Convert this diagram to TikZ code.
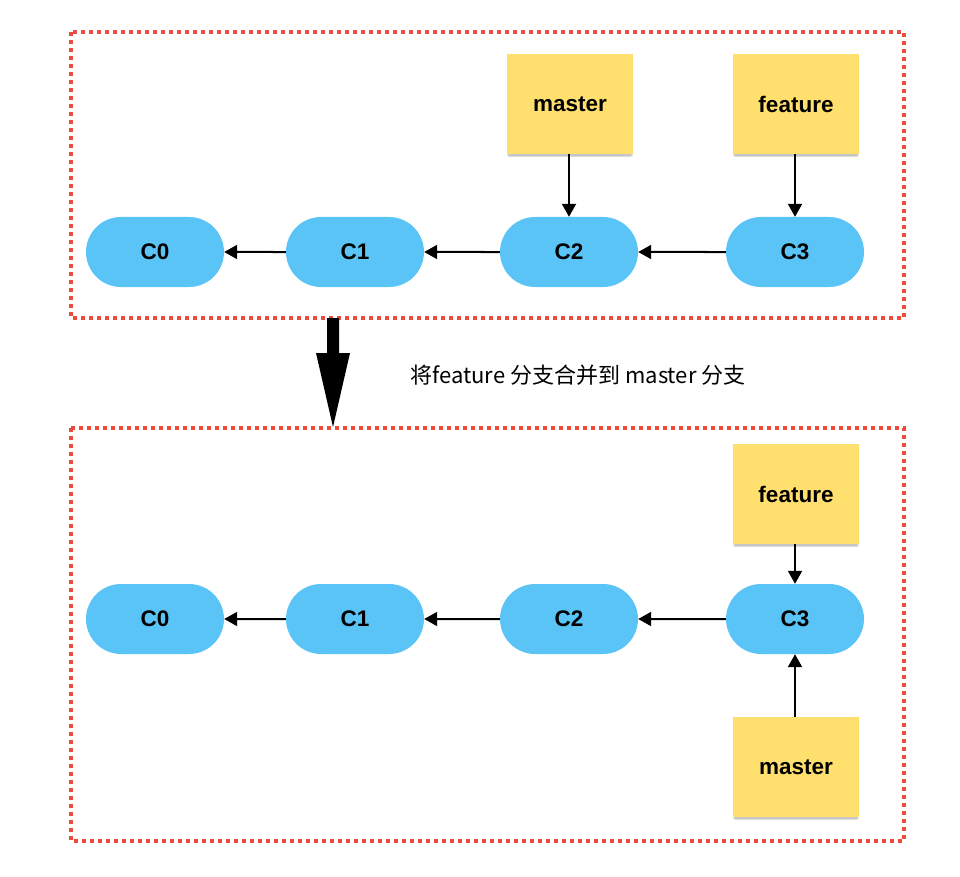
\documentclass[tikz,border=0pt]{standalone}
\usepackage{fontspec}
\setmainfont{Liberation Sans}
\newfontfamily\cjk{Noto Sans CJK SC}
\usetikzlibrary{arrows.meta,shadows,shapes.misc}
\definecolor{pillblue}{HTML}{5AC4F6}
\definecolor{noteyellow}{HTML}{FFDF6E}
\definecolor{framered}{HTML}{EE4B3E}
\begin{document}
\begin{tikzpicture}[x=1pt,y=-1pt,
  commit/.style={rounded rectangle, fill=pillblue, minimum width=138pt, minimum height=70pt, inner sep=0pt, font=\fontsize{22.5}{26}\selectfont\bfseries},
  note/.style={rectangle, fill=noteyellow, minimum width=126pt, minimum height=100pt, inner sep=0pt, font=\fontsize{22.5}{26}\selectfont\bfseries,
    general shadow={shadow xshift=0pt, shadow yshift=-5pt, shadow scale=0.97, opacity=0.06, fill=black},
    general shadow={shadow xshift=0pt, shadow yshift=-3.5pt, shadow scale=0.99, opacity=0.08, fill=black},
    general shadow={shadow xshift=0pt, shadow yshift=-2pt, opacity=0.10, fill=black}},
  frame/.style={draw=framered, line width=3.5pt, dash pattern=on 4pt off 4pt},
  link/.style={draw=black, line width=2pt, -{Triangle[length=13pt,width=14pt]}}
]
\useasboundingbox (0,0) rectangle (960,877);
% frames
\draw[frame] (71,32) rectangle (904,318);
\draw[frame] (71,428) rectangle (904,841);
% top row
\node[commit] (a0) at (155,252) {C0};
\node[commit] (a1) at (355,252) {C1};
\node[commit] (a2) at (569,252) {C2};
\node[commit] (a3) at (795,252) {C3};
\node[note] (am) at (570,104) {master};
\node[note] (af) at (796,104) {feature};
\draw[link] (a1) -- (a0);
\draw[link] (a2) -- (a1);
\draw[link] (a3) -- (a2);
\draw[link] (am.south -| a2.north) -- (a2.north);
\draw[link] (af.south -| a3.north) -- (a3.north);
% big arrow
\coordinate (bs) at (333,318);
\coordinate (be) at (333,427);
\fill[black] (327,318) -- (339,318) -- (339,353) -- (350,353) -- (be) -- (316,353) -- (327,353) -- cycle;
\node[font=\cjk\fontsize{22}{26}\selectfont, anchor=center] (lbl) at (578,375) {将feature 分支合并到 master 分支};
% bottom row
\node[commit] (b0) at (155,619) {C0};
\node[commit] (b1) at (355,619) {C1};
\node[commit] (b2) at (569,619) {C2};
\node[commit] (b3) at (795,619) {C3};
\node[note] (bf) at (796,494) {feature};
\node[note] (bm) at (796,767) {master};
\draw[link] (b1) -- (b0);
\draw[link] (b2) -- (b1);
\draw[link] (b3) -- (b2);
\draw[link] (bf.south -| b3.north) -- (b3.north);
\draw[link] (bm.north -| b3.south) -- (b3.south);
\end{tikzpicture}
\end{document}
